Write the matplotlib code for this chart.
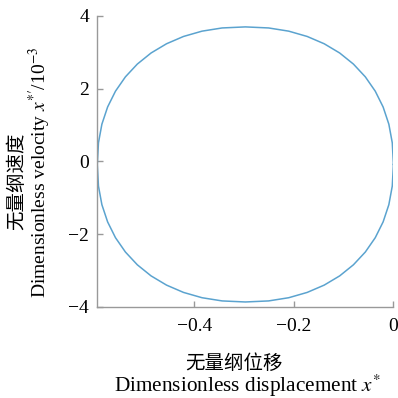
import matplotlib
matplotlib.use('Agg')
import matplotlib.pyplot as plt

plt.rcParams['font.family'] = ['Liberation Serif', 'Noto Sans CJK SC']
plt.rcParams['mathtext.fontset'] = 'stix'

# phase trajectory: dimensionless displacement vs velocity (x1e-3)
disp = [0.0000, -0.0023, -0.0092, -0.0207, -0.0365, -0.0565, -0.0804, -0.1080, -0.1391,
        -0.1733, -0.2104, -0.2508, -0.2975, -0.3442, -0.3846, -0.4218, -0.4559, -0.4870,
        -0.5146, -0.5385, -0.5585, -0.5743, -0.5858, -0.5927, -0.5950, -0.5927, -0.5858,
        -0.5743, -0.5585, -0.5385, -0.5146, -0.4870, -0.4559, -0.4218, -0.3846, -0.3442,
        -0.2975, -0.2508, -0.2104, -0.1733, -0.1391, -0.1080, -0.0804, -0.0565, -0.0365,
        -0.0207, -0.0092, -0.0023, 0.0000]
vel = [-0.085, 0.510, 1.023, 1.496, 1.931, 2.326, 2.677, 2.982, 3.236,
       3.437, 3.583, 3.671, 3.700, 3.671, 3.583, 3.437, 3.236, 2.982,
       2.677, 2.326, 1.931, 1.496, 1.023, 0.510, -0.085, -0.680, -1.193,
       -1.666, -2.101, -2.496, -2.847, -3.152, -3.406, -3.607, -3.753, -3.841,
       -3.870, -3.841, -3.753, -3.607, -3.406, -3.152, -2.847, -2.496, -2.101,
       -1.666, -1.193, -0.680, -0.085]

xticks = [-0.4, -0.2, 0]
xticklabels = ['\u22120.4', '\u22120.2', '0']
yticks = [-4, -2, 0, 2, 4]
yticklabels = ['\u22124', '\u22122', '0', '2', '4']

fig = plt.figure(figsize=(3.98, 3.98), dpi=100)
ax = fig.add_axes([0.2445, 0.2294, 0.744, 0.7304])
ax.plot(disp, vel, color='#5ba3cf', lw=1.1, solid_joinstyle='round')

ax.set_xlim(-0.595, 0)
ax.set_ylim(-4, 4)
ax.set_xticks(xticks)
ax.set_xticklabels(xticklabels)
ax.set_yticks(yticks)
ax.set_yticklabels(yticklabels)

for side in ['top', 'right']:
    ax.spines[side].set_visible(False)
for side in ['left', 'bottom']:
    ax.spines[side].set_color('#999999')
    ax.spines[side].set_linewidth(1.0)
ax.tick_params(direction='in', length=4, width=1.0, color='#999999', labelsize=14)
ax.tick_params(axis='x', pad=8)
ax.tick_params(axis='y', pad=6)

# axis titles, Chinese line above English line
fig.text(0.588, 0.088, '无量纲位移', ha='center', va='center', fontsize=14,
         family=['Noto Sans CJK SC'])
fig.text(0.622, 0.030, r'Dimensionless displacement $x^{*}$', ha='center', va='center',
         fontsize=15.3)
fig.text(0.043, 0.545, '无量纲速度', ha='center', va='center', rotation=90, fontsize=14,
         family=['Noto Sans CJK SC'])
fig.text(0.100, 0.568, r'Dimensionless velocity $x^{*\prime}$/10$^{-3}$', ha='center',
         va='center', rotation=90, fontsize=14)

fig.savefig('out.png', dpi=100)
